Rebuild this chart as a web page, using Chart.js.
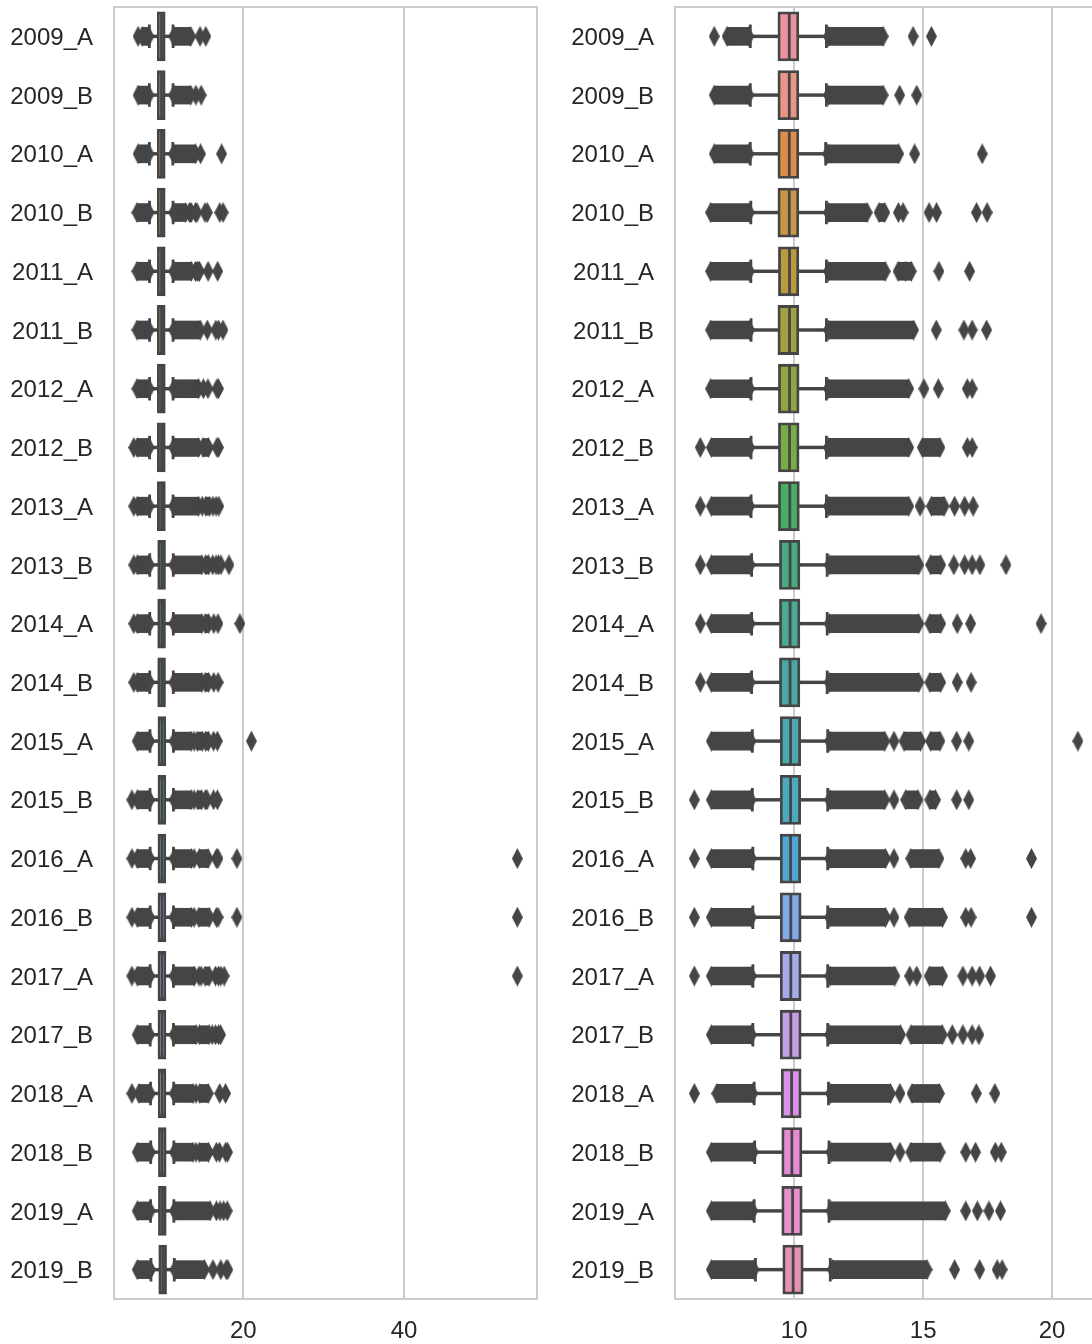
<!DOCTYPE html>
<html>
<head>
<meta charset="utf-8">
<title>Boxplots 2009-2019</title>
<script src="https://cdn.jsdelivr.net/npm/chart.js"></script>
<style>
    body {
        margin: 0;
        background: #ffffff;
        overflow: hidden;
    }
    .panel {
        position: absolute;
        top: 0;
    }
</style>
</head>
<body>
<div class="panel" style="left:0px"><canvas id="leftChart" width="560" height="1344"></canvas></div>
<div class="panel" style="left:560px"><canvas id="rightChart" width="540" height="1344"></canvas></div>
<script>
const categories = ['2009_A', '2009_B', '2010_A', '2010_B', '2011_A', '2011_B', '2012_A', '2012_B',
    '2013_A', '2013_B', '2014_A', '2014_B', '2015_A', '2015_B', '2016_A', '2016_B',
    '2017_A', '2017_B', '2018_A', '2018_B', '2019_A', '2019_B'];

const whiskerLow = [8.30, 8.30, 8.30, 8.32, 8.32, 8.33, 8.33, 8.33, 8.33, 8.35, 8.35, 8.35,
    8.38, 8.38, 8.40, 8.40, 8.40, 8.40, 8.45, 8.47, 8.45, 8.50];
const q1 = [9.41, 9.41, 9.41, 9.41, 9.43, 9.41, 9.43, 9.43, 9.43, 9.47, 9.47, 9.47,
    9.50, 9.50, 9.50, 9.50, 9.50, 9.50, 9.54, 9.56, 9.56, 9.60];
const medians = [9.81, 9.81, 9.81, 9.81, 9.82, 9.82, 9.82, 9.82, 9.83, 9.84, 9.84, 9.84,
    9.86, 9.86, 9.86, 9.87, 9.87, 9.87, 9.90, 9.91, 9.94, 9.96];
const q3 = [10.14, 10.14, 10.14, 10.14, 10.14, 10.14, 10.15, 10.15, 10.16, 10.18, 10.18, 10.18,
    10.21, 10.21, 10.21, 10.23, 10.23, 10.23, 10.23, 10.26, 10.27, 10.31];
const whiskerHigh = [11.25, 11.25, 11.22, 11.25, 11.25, 11.25, 11.25, 11.25, 11.25, 11.28, 11.28, 11.28,
    11.30, 11.30, 11.30, 11.30, 11.30, 11.30, 11.33, 11.35, 11.35, 11.40];

// dense clusters of fliers, read as [from, to]
const outlierRuns = [
    [[7.40, 8.24], [11.33, 13.45]],
    [[6.90, 8.24], [11.33, 13.45]],
    [[6.90, 8.24], [11.30, 14.05]],
    [[6.76, 8.26], [11.33, 12.83], [13.29, 13.51]],
    [[6.76, 8.26], [11.33, 13.53], [14.03, 14.54]],
    [[6.76, 8.27], [11.33, 14.63]],
    [[6.76, 8.27], [11.33, 14.44]],
    [[6.79, 8.27], [11.33, 14.44], [14.97, 15.65]],
    [[6.79, 8.27], [11.33, 14.44], [15.32, 15.81]],
    [[6.79, 8.29], [11.36, 14.83], [15.29, 15.68]],
    [[6.79, 8.29], [11.36, 14.83], [15.26, 15.68]],
    [[6.79, 8.29], [11.36, 14.83], [15.26, 15.68]],
    [[6.79, 8.32], [11.38, 13.51], [14.26, 14.90], [15.29, 15.65]],
    [[6.79, 8.32], [11.38, 13.51], [14.32, 14.80], [15.26, 15.48]],
    [[6.79, 8.34], [11.38, 13.54], [14.52, 15.61]],
    [[6.79, 8.34], [11.38, 13.54], [14.46, 15.75]],
    [[6.79, 8.34], [11.38, 13.90], [15.24, 15.75]],
    [[6.79, 8.34], [11.38, 14.12], [14.53, 15.74]],
    [[7.00, 8.39], [11.41, 13.73], [14.57, 15.63]],
    [[6.79, 8.41], [11.43, 13.73], [14.52, 15.66]],
    [[6.79, 8.39], [11.43, 15.86]],
    [[6.79, 8.44], [11.48, 15.15]]
];

// separate fliers
const outlierPoints = [
    [6.90, 14.61, 15.32],
    [14.09, 14.75],
    [14.67, 17.29],
    [14.04, 14.22, 15.23, 15.52, 17.07, 17.48],
    [14.32, 15.61, 16.80],
    [15.51, 16.58, 16.90, 17.46],
    [15.03, 15.59, 16.71, 16.90],
    [6.36, 16.71, 16.90],
    [6.36, 14.88, 16.22, 16.61, 16.94],
    [6.36, 16.19, 16.61, 16.90, 17.20, 18.21],
    [6.36, 16.32, 16.84, 19.57],
    [6.36, 16.32, 16.86],
    [13.87, 16.30, 16.77, 21.00],
    [6.13, 13.87, 16.30, 16.77],
    [6.13, 13.87, 16.65, 16.84, 19.20],
    [6.13, 13.87, 16.65, 16.86, 19.20],
    [6.13, 14.48, 14.75, 16.54, 16.90, 17.19, 17.61],
    [16.13, 16.54, 16.90, 17.16],
    [6.13, 14.10, 17.06, 17.78],
    [14.10, 16.65, 17.03, 17.80, 18.03],
    [16.65, 17.10, 17.55, 18.00],
    [16.22, 17.19, 17.87, 18.06]
];

// only in the left (unfiltered) panel
const farOutlierCats = ['2016_A', '2016_B', '2017_A'];
const farOutlierValues = [54.1, 54.1, 54.1];

const leftRange = [3.9, 56.55];
const leftTicks = [20, 40];
const rightRange = [5.38, 21.74];
const rightTicks = [10, 15, 20];

const boxColors = ['#e8939f', '#e89686', '#de8e48', '#c89646', '#b99b41', '#a3a041', '#91a541', '#78ac46',
    '#46af64', '#48ac80', '#48aa94', '#48a8a5', '#4aa8af', '#4caabe', '#52a5d2', '#82aae6',
    '#a5aaeb', '#c3a0e6', '#d791e6', '#e68cd7', '#e691cd', '#e491b4'];

const dark = '#454545';
const lw = 2.8;

Chart.defaults.font.family = "'Liberation Sans', Arial, sans-serif";
Chart.defaults.font.size = 24;
Chart.defaults.color = '#262626';

// thin diamond marker like matplotlib 'd'
const diamond = document.createElement('canvas');
diamond.width = 11;
diamond.height = 21;
(function () {
    const c = diamond.getContext('2d');
    c.fillStyle = dark;
    c.beginPath();
    c.moveTo(5.5, 0);
    c.lineTo(11, 10.5);
    c.lineTo(5.5, 21);
    c.lineTo(0, 10.5);
    c.closePath();
    c.fill();
})();

const framePlugin = {
    id: 'frame',
    beforeDatasetsDraw(chart) {
        const {ctx, chartArea: a} = chart;
        ctx.save();
        ctx.strokeStyle = '#cccccc';
        ctx.lineWidth = 2;
        ctx.strokeRect(a.left, a.top, a.right - a.left, a.bottom - a.top);
        ctx.restore();
    }
};

function buildDatasets(withFar) {
    const ds = [];
    const thin = {type: 'bar', barThickness: lw, backgroundColor: dark,
        borderWidth: 0, grouped: false, order: 5};
    ds.push(Object.assign({data: categories.map((c, i) => [whiskerLow[i], q1[i]])}, thin));
    ds.push(Object.assign({data: categories.map((c, i) => [q3[i], whiskerHigh[i]])}, thin));

    const caps = [];
    categories.forEach((c, i) => {
        caps.push({x: whiskerLow[i], y: c});
        caps.push({x: whiskerHigh[i], y: c});
    });
    ds.push({type: 'scatter', data: caps, pointStyle: 'line', pointRotation: 90, pointRadius: 11.75,
        pointBorderWidth: lw, pointBorderColor: dark, order: 4});

    const maxRuns = Math.max(...outlierRuns.map(r => r.length));
    for (let k = 0; k < maxRuns; k++) {
        ds.push({type: 'bar', data: outlierRuns.map(r => r[k] || null),
            barThickness: 18, backgroundColor: dark, borderWidth: 0, grouped: false, order: 3});
    }

    const pts = [];
    outlierRuns.forEach((runs, i) => runs.forEach(r => {
        pts.push({x: r[0], y: categories[i]});
        pts.push({x: r[1], y: categories[i]});
    }));
    outlierPoints.forEach((vals, i) => vals.forEach(v => pts.push({x: v, y: categories[i]})));
    if (withFar) {
        farOutlierCats.forEach((c, j) => pts.push({x: farOutlierValues[j], y: c}));
    }
    ds.push({type: 'scatter', data: pts, pointStyle: diamond, pointRadius: 6, order: 2});

    ds.push({type: 'bar', data: categories.map((c, i) => [q1[i], q3[i]]),
        backgroundColor: boxColors, borderColor: dark, borderWidth: lw, borderSkipped: false,
        inflateAmount: lw / 2, barPercentage: 0.8, categoryPercentage: 1, grouped: false, order: 1});

    ds.push({type: 'scatter', data: categories.map((c, i) => ({x: medians[i], y: c})),
        pointStyle: 'line', pointRotation: 90, pointRadius: 23.5,
        pointBorderWidth: lw, pointBorderColor: dark, order: 0});
    return ds;
}

function makeChart(id, range, tickValues, withFar, yWidth, padRight) {
    new Chart(document.getElementById(id), {
        type: 'bar',
        data: {labels: categories, datasets: buildDatasets(withFar)},
        plugins: [framePlugin],
        options: {
            indexAxis: 'y',
            responsive: false,
            animation: false,
            devicePixelRatio: 1,
            layout: {autoPadding: false, padding: {top: 7, right: padRight, bottom: 0, left: 0}},
            plugins: {legend: {display: false}, tooltip: {enabled: false}},
            scales: {
                x: {
                    type: 'linear',
                    min: range[0],
                    max: range[1],
                    offset: false,
                    grid: {color: '#cccccc', lineWidth: 2, drawTicks: false, offset: false},
                    border: {display: false},
                    ticks: {padding: 18},
                    afterBuildTicks: s => { s.ticks = tickValues.map(v => ({value: v})); },
                    afterFit: s => { s.height = 45; s.paddingLeft = 0; s.paddingRight = 0; }
                },
                y: {
                    type: 'category',
                    offset: true,
                    grid: {display: false, drawTicks: false},
                    border: {display: false},
                    ticks: {padding: 21, labelOffset: 2},
                    afterFit: s => { s.width = yWidth; s.paddingTop = 0; s.paddingBottom = 0; }
                }
            }
        }
    });
}

makeChart('leftChart', leftRange, leftTicks, true, 114, 23);
makeChart('rightChart', rightRange, rightTicks, false, 115, 3);
</script>
</body>
</html>
